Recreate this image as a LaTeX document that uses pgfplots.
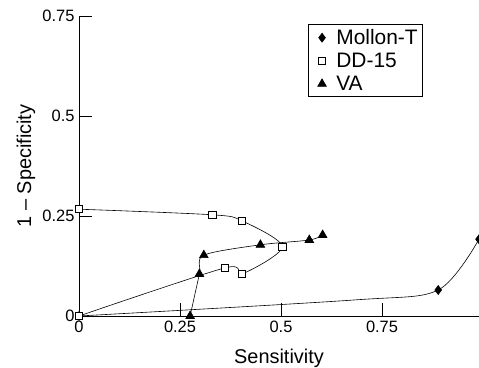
\documentclass[border=0pt]{standalone}
\usepackage{fontspec}
\setmainfont{Liberation Sans}
\usepackage{pgfplots}
\pgfplotsset{compat=1.18}
\begin{document}
\begin{tikzpicture}
\begin{axis}[
  scale only axis,
  width=400bp, height=300bp,
  xmin=0, xmax=0.99, ymin=0, ymax=0.75,
  axis x line=bottom, axis y line=left,
  axis line style={-, line width=0.8pt},
  xtick={0,0.25,0.5,0.75}, ytick={0,0.25,0.5,0.75},
  xticklabels={0,0.25,0.5,0.75}, yticklabels={0,0.25,0.5,0.75},
  tick align=inside, major tick length=13bp,
  tick style={line width=0.6pt, black},
  xticklabel style={font=\fontsize{16.5}{19}\selectfont, yshift=-2bp},
  yticklabel style={font=\fontsize{16.5}{19}\selectfont, xshift=-1bp},
  /pgf/number format/assume math mode=true,
  xlabel={Sensitivity}, ylabel={1 – Specificity},
  xlabel style={font=\fontsize{20}{24}\selectfont, at={(axis description cs:0.5,0)}, anchor=north, yshift=-30bp},
  ylabel style={font=\fontsize{20}{24}\selectfont, at={(axis description cs:-0.1325,0.5)}, anchor=center},
  clip=false,
  legend style={at={(rel axis cs:0.86,0.973)}, anchor=north east,
    font=\fontsize{21}{25}\selectfont, draw=black, line width=0.6pt,
    inner xsep=3bp, inner ysep=3bp, row sep=3bp},
  legend cell align=left,
  legend image code/.code={\path (0bp,0bp) (22bp,0bp); \draw[only marks] plot coordinates {(10bp,0bp)};},
]
\addplot[black, line width=0.6pt, smooth, mark=diamond*, mark size=4.5bp,
  mark indices={1,3,4}, mark options={fill=black}] coordinates {
  (0,0) (0.68,0.04) (0.889,0.065) (0.99,0.192)
};
\addlegendentry{Mollon-T}
\addplot[black, line width=0.6pt, smooth, tension=0.5, mark=square*, mark size=3.6bp,
  mark options={fill=white, line width=0.6pt}] coordinates {
  (0,0.267) (0.33,0.253) (0.403,0.238) (0.503,0.173) (0.403,0.105) (0.36,0.12) (0,0)
};
\addlegendentry{DD-15}
\addplot[black, line width=0.6pt, smooth, tension=0.5, mark=triangle*, mark size=5bp,
  mark options={fill=black}] coordinates {
  (0.275,0) (0.298,0.105) (0.309,0.152) (0.449,0.178) (0.57,0.19) (0.603,0.2025)
};
\addlegendentry{VA}
\end{axis}
\pgfresetboundingbox
\path ([xshift=-79bp,yshift=-52bp]current axis.south west) rectangle ([yshift=16bp]current axis.north east);
\end{tikzpicture}
\end{document}
